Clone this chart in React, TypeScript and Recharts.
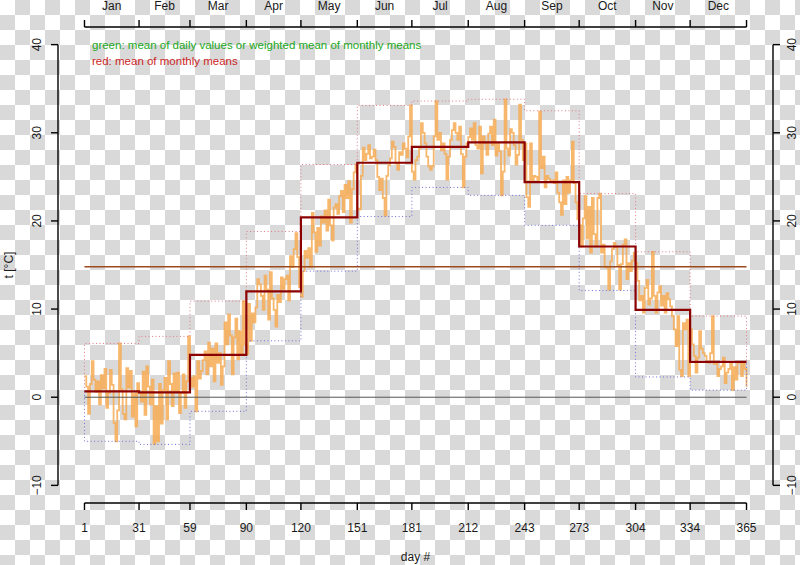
import { LineChart, Line, XAxis, YAxis, ReferenceLine } from 'recharts';

const monthNames = ['Jan', 'Feb', 'Mar', 'Apr', 'May', 'Jun', 'Jul', 'Aug', 'Sep', 'Oct', 'Nov', 'Dec'];
const dayTicks = [1, 31, 59, 90, 120, 151, 181, 212, 243, 273, 304, 334, 365];
const tempTicks = [-10, 0, 10, 20, 30, 40];

// daily temperatures, month by month
const janTemps = [2.4, 1.2, -1.9, 1.5, 4.1, 2.0, 0.6, 1.8, -0.8, 2.5, 1.0, 3.2, -1.2, 0.5, 3.1, 1.4, -2.9, -5.0, -1.5, 6.1, 0.9, -1.9, -2.5, 3.3, 1.1, 3.0, -2.2, 0.4, -3.3, 1.6, 0.5];
const febTemps = [-0.5, 2.9, -2.0, 3.5, 1.2, -0.8, 2.0, -5.3, -1.0, -5.0, 1.5, -3.0, 0.8, 2.2, -2.5, 4.1, 1.5, -1.0, 2.7, 0.6, 2.8, -1.8, 0.5, 2.6, -1.2, 1.8, 6.9, 2.2];
const marTemps = [1.2, 2.4, -1.6, 4.1, 2.1, 3.0, 4.2, 5.2, 2.6, 6.2, 3.5, 5.5, 1.8, 6.1, 3.9, 5.0, 1.4, 3.5, 8.5, 6.0, 9.4, 7.0, 2.6, 6.8, 8.9, 4.3, 7.5, 5.0, 10.9, 6.0, 4.9];
const aprTemps = [10.6, 6.4, 9.5, 8.5, 10.2, 13.4, 12.8, 11.5, 9.9, 13.8, 12.2, 8.8, 14.2, 11.2, 9.9, 8.0, 11.6, 10.8, 13.6, 12.3, 13.4, 13.8, 11.0, 16.0, 14.8, 16.8, 18.6, 15.9, 12.5, 11.4];
const mayTemps = [14.3, 16.6, 15.8, 16.9, 14.8, 20.9, 18.7, 16.5, 19.2, 17.2, 20.5, 19.8, 21.2, 18.9, 22.4, 19.5, 17.8, 21.5, 21.9, 20.8, 22.8, 23.4, 21.0, 24.1, 22.6, 24.5, 19.8, 23.6, 25.5, 26.4, 21.4];
const junTemps = [21.3, 25.1, 28.3, 26.9, 27.6, 28.6, 27.1, 27.3, 28.1, 26.9, 25.0, 23.5, 24.8, 22.6, 20.6, 25.1, 26.3, 27.1, 29.0, 28.4, 26.5, 25.8, 27.8, 27.5, 28.8, 28.2, 27.2, 29.6, 33.1, 25.6];
const julTemps = [24.7, 26.9, 27.3, 28.3, 31.1, 30.0, 28.8, 27.3, 26.2, 25.8, 26.2, 29.6, 33.6, 29.2, 30.0, 28.0, 28.8, 27.6, 24.7, 27.3, 29.2, 30.3, 31.1, 30.0, 29.2, 30.7, 27.6, 23.8, 27.3, 28.8, 29.5];
const augTemps = [30.5, 29.2, 31.1, 28.6, 28.2, 30.7, 25.4, 29.6, 28.8, 27.5, 29.9, 30.7, 28.6, 31.5, 27.4, 28.8, 27.9, 22.9, 25.6, 33.8, 28.2, 27.4, 30.4, 30.0, 28.6, 26.4, 27.5, 33.2, 29.2, 26.9, 28.8];
const sepTemps = [22.7, 21.6, 28.8, 24.5, 25.1, 25.0, 24.6, 32.4, 26.0, 27.3, 23.8, 25.1, 24.8, 24.5, 24.6, 24.3, 25.5, 23.2, 22.1, 20.7, 24.6, 21.9, 25.0, 23.2, 24.6, 29.0, 24.3, 22.1, 20.2, 19.5];
const octTemps = [17.1, 20.3, 22.8, 18.0, 21.6, 16.4, 22.6, 18.5, 17.1, 22.6, 23.1, 16.4, 17.3, 14.8, 14.7, 12.2, 15.4, 16.8, 17.5, 17.0, 15.0, 12.2, 15.1, 17.3, 17.9, 13.4, 15.2, 14.3, 15.5, 16.4, 15.2];
const novTemps = [13.2, 11.0, 11.5, 9.6, 12.4, 13.3, 10.5, 11.2, 16.5, 11.5, 9.6, 11.9, 12.6, 10.4, 11.5, 9.6, 11.8, 11.1, 10.3, 9.2, 7.7, 5.8, 9.2, 3.1, 2.4, 8.4, 7.7, 8.8, 2.4, 7.7];
const decTemps = [6.0, 4.7, 2.8, 4.5, 7.5, 5.5, 5.0, 4.7, 4.0, 3.9, 5.0, 9.2, 3.8, 3.9, 2.4, 3.2, 3.5, 4.5, 1.6, 2.8, 3.2, 3.9, 0.8, 3.4, 2.0, 3.9, 3.9, 2.4, 4.0, 3.2, 1.2];

const monthlyMeans = [0.66, 0.55, 4.8, 12.0, 20.4, 26.6, 28.4, 28.9, 24.4, 17.1, 9.9, 4.0];
const monthlyMax = [6.1, 6.9, 10.9, 18.8, 26.4, 33.1, 33.6, 33.8, 32.5, 23.1, 16.5, 9.2];
const monthlyMin = [-5.0, -5.35, -1.6, 6.4, 14.3, 20.5, 23.8, 22.9, 19.5, 12.1, 2.3, 0.8];

const dailyTemps = [
  ...janTemps, ...febTemps, ...marTemps, ...aprTemps, ...mayTemps, ...junTemps,
  ...julTemps, ...augTemps, ...sepTemps, ...octTemps, ...novTemps, ...decTemps,
];
const dailyData = dailyTemps.map((t, i) => ({ day: i + 1, t }));

const monthStep = (vals: number[]) =>
  dayTicks.map((day, i) => ({ day, t: vals[Math.min(i, 11)] }));

const meanData = monthStep(monthlyMeans);
const maxData = [{ day: 1, t: monthlyMeans[0] }, ...monthStep(monthlyMax), { day: 365, t: monthlyMeans[11] }];
const minData = [{ day: 1, t: monthlyMeans[0] }, ...monthStep(monthlyMin), { day: 365, t: monthlyMeans[11] }];

const annualMean = monthlyMeans.reduce((a, b) => a + b, 0) / monthlyMeans.length;
const annualData = [{ day: 1, t: annualMean }, { day: 365, t: annualMean }];

// R-style 4% axis extension
const xPad = (dayTicks[12] - dayTicks[0]) * 0.04;
const xMin = dayTicks[0] - xPad;
const xMax = dayTicks[12] + xPad;
const yPad = (tempTicks[5] - tempTicks[0]) * 0.04;
const yMin = tempTicks[0] - yPad;
const yMax = tempTicks[5] + yPad;

const W = 800;
const H = 565;
const LEFT_W = 58;
const RIGHT_W = 27;
const TOP_H = 27;
const BOTTOM_H = 62;
const pxPerDay = (W - LEFT_W - RIGHT_W) / (xMax - xMin);

const FONT = '"Liberation Sans", Arial, sans-serif';
const TEXT_FILL = '#1a1a1a';

const fmt = (v: number) => (v < 0 ? '\u2212' + Math.abs(v) : String(v));

function TopTick(props: any) {
  const { x, y, payload } = props;
  const i = dayTicks.indexOf(payload.value);
  if (i < 0 || i > 11) return <g />;
  const mid = x + ((dayTicks[i + 1] - dayTicks[i]) / 2) * pxPerDay;
  return (
    <text x={mid} y={y - 8} textAnchor="middle" fontSize={12} fontFamily={FONT} fill={TEXT_FILL}>
      {monthNames[i]}
    </text>
  );
}

function BottomTick(props: any) {
  const { x, y, payload } = props;
  return (
    <text x={x} y={y + 19.5} textAnchor="middle" fontSize={12} fontFamily={FONT} fill={TEXT_FILL}>
      {payload.value}
    </text>
  );
}

function LeftTick(props: any) {
  const { x, y, payload } = props;
  const bx = x - 7.7;
  return (
    <text x={bx} y={y} transform={`rotate(-90 ${bx} ${y})`} textAnchor="middle" fontSize={12} fontFamily={FONT} fill={TEXT_FILL}>
      {fmt(payload.value)}
    </text>
  );
}

function RightTick(props: any) {
  const { x, y, payload } = props;
  const bx = x + 14.5;
  return (
    <text x={bx} y={y} transform={`rotate(-90 ${bx} ${y})`} textAnchor="middle" fontSize={12} fontFamily={FONT} fill={TEXT_FILL}>
      {fmt(payload.value)}
    </text>
  );
}

const axisStroke = { stroke: '#000', strokeWidth: 1.4 };

export default function App() {
  return (
    <div
      style={{
        position: 'absolute',
        left: 0,
        top: 0,
        width: W,
        height: H,
        background: 'repeating-conic-gradient(#d9d9d9 0% 25%, #ffffff 0% 50%) 0 0 / 30px 30px',
        overflow: 'hidden',
      }}
    >
      <LineChart width={W} height={H} data={dailyData} margin={{ top: 0, right: 0, bottom: 0, left: 0 }}>
        <XAxis
          xAxisId="b"
          dataKey="day"
          type="number"
          domain={[xMin, xMax]}
          allowDataOverflow
          ticks={dayTicks}
          interval={0}
          height={BOTTOM_H}
          axisLine={false}
          tickLine={axisStroke}
          tickSize={7}
          tickMargin={2}
          tick={BottomTick}
        />
        <XAxis
          xAxisId="t"
          orientation="top"
          dataKey="day"
          type="number"
          domain={[xMin, xMax]}
          allowDataOverflow
          ticks={dayTicks}
          interval={0}
          height={TOP_H}
          axisLine={false}
          tickLine={axisStroke}
          tickSize={7}
          tickMargin={2}
          tick={TopTick}
        />
        <YAxis
          yAxisId="l"
          type="number"
          domain={[yMin, yMax]}
          allowDataOverflow
          ticks={tempTicks}
          interval={0}
          width={LEFT_W}
          axisLine={false}
          tickLine={axisStroke}
          tickSize={7}
          tickMargin={2}
          tick={LeftTick}
        />
        <YAxis
          yAxisId="r"
          orientation="right"
          type="number"
          domain={[yMin, yMax]}
          allowDataOverflow
          ticks={tempTicks}
          interval={0}
          width={RIGHT_W}
          axisLine={false}
          tickLine={axisStroke}
          tickSize={7}
          tickMargin={2}
          tick={RightTick}
        />

        {/* axis lines spanning only the tick range, as in R */}
        <ReferenceLine xAxisId="b" yAxisId="l" ifOverflow="visible" stroke="#000" strokeWidth={1.4}
          segment={[{ x: dayTicks[0], y: yMin }, { x: dayTicks[12], y: yMin }]} />
        <ReferenceLine xAxisId="b" yAxisId="l" ifOverflow="visible" stroke="#000" strokeWidth={1.4}
          segment={[{ x: dayTicks[0], y: yMax }, { x: dayTicks[12], y: yMax }]} />
        <ReferenceLine xAxisId="b" yAxisId="l" ifOverflow="visible" stroke="#000" strokeWidth={1.4}
          segment={[{ x: xMin, y: tempTicks[0] }, { x: xMin, y: tempTicks[5] }]} />
        <ReferenceLine xAxisId="b" yAxisId="l" ifOverflow="visible" stroke="#000" strokeWidth={1.4}
          segment={[{ x: xMax, y: tempTicks[0] }, { x: xMax, y: tempTicks[5] }]} />

        <Line xAxisId="b" yAxisId="l" dataKey="t" type="stepAfter" stroke="#f6aa52" strokeOpacity={0.85}
          strokeWidth={1.8} dot={false} isAnimationActive={false} />
        <Line xAxisId="b" yAxisId="l" data={maxData} dataKey="t" type="stepAfter" stroke="#e07a86"
          strokeWidth={1} strokeDasharray="1 2.5" dot={false} isAnimationActive={false} />
        <Line xAxisId="b" yAxisId="l" data={minData} dataKey="t" type="stepAfter" stroke="#6f6fd8"
          strokeWidth={1} strokeDasharray="1 2.5" dot={false} isAnimationActive={false} />

        <ReferenceLine xAxisId="b" yAxisId="l" stroke="#555" strokeWidth={1}
          segment={[{ x: dayTicks[0], y: 0 }, { x: dayTicks[12], y: 0 }]} />
        <Line xAxisId="b" yAxisId="l" data={annualData} dataKey="t" type="linear" stroke="#9c4a1c"
          strokeWidth={1.6} dot={false} isAnimationActive={false} />
        <Line xAxisId="b" yAxisId="l" data={meanData} dataKey="t" type="stepAfter" stroke="#8b0000"
          strokeWidth={2.2} dot={false} isAnimationActive={false} />
      </LineChart>

      <svg width={W} height={H} style={{ position: 'absolute', left: 0, top: 0, pointerEvents: 'none' }}>
        <text x={92} y={48.5} fontSize={11.5} fontFamily={FONT} fill="#22a822">
          green: mean of daily values or weighted mean of monthly means
        </text>
        <text x={92} y={64.5} fontSize={11.5} fontFamily={FONT} fill="#cc1f1f">
          red: mean of monthly means
        </text>
        <text x={415.5} y={561} textAnchor="middle" fontSize={12} fontFamily={FONT} fill={TEXT_FILL}>
          day #
        </text>
        <text x={13} y={265} transform="rotate(-90 13 265)" textAnchor="middle" fontSize={12} fontFamily={FONT} fill={TEXT_FILL}>
          t [°C]
        </text>
      </svg>
    </div>
  );
}
